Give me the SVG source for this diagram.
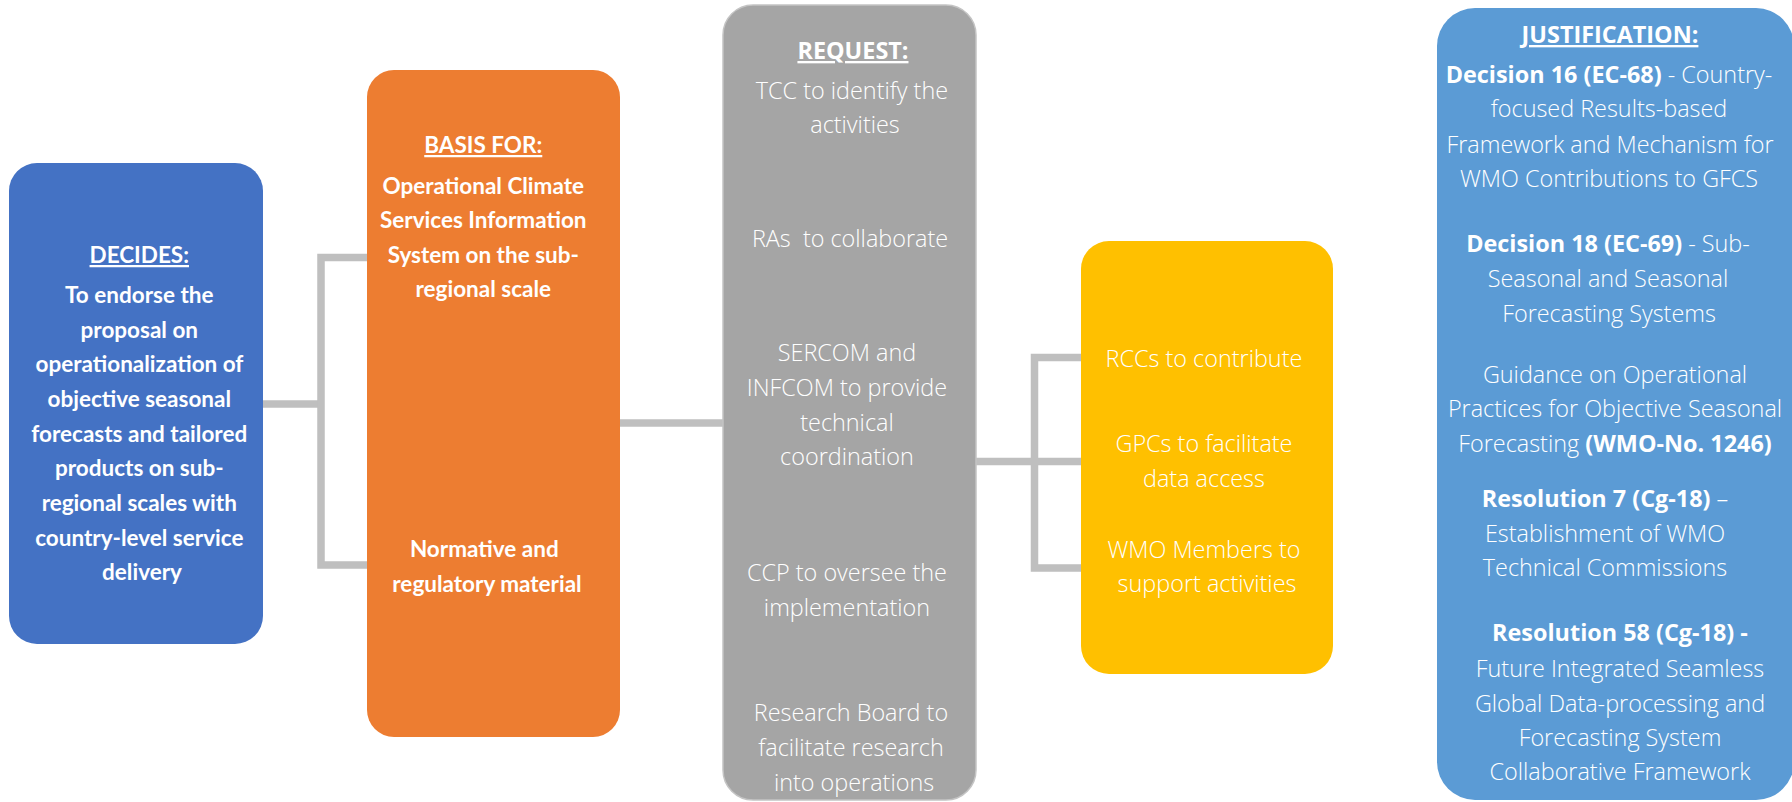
<svg xmlns="http://www.w3.org/2000/svg" width="1792" height="802" viewBox="0 0 1792 802">
<style>
.cb{font-family:Lato,"Open Sans","Liberation Sans",sans-serif;font-weight:700;font-size:22.5px;fill:#fff;text-anchor:middle}
.sg{font-family:"Open Sans","Noto Sans","Liberation Sans",sans-serif;font-weight:300;font-size:23.4px;fill:#fff;text-anchor:middle}
.b{font-weight:700}
.u{text-decoration:underline}
.pre{white-space:pre}
.conn{fill:none;stroke:#BFBFBF;stroke-width:7.5;stroke-linejoin:miter;stroke-linecap:butt}
</style>
<rect width="1792" height="802" fill="#fff"/>
<g id="connectors">
<path class="conn" d="M263,404 H321"/>
<path class="conn" d="M367,257.5 H321 V565 H367"/>
<path class="conn" d="M620,423 H723"/>
<path class="conn" d="M976,461.5 H1081"/>
<path class="conn" d="M1081,357.5 H1034.5 V568 H1081"/>
</g>
<g id="decides">
<rect x="9" y="163" width="254" height="481" rx="28" fill="#4472C4"/>
<text class="cb"><tspan class="u" x="142" y="263">DECIDES:</tspan>
<tspan x="142" y="303">To endorse the</tspan>
<tspan x="142" y="338">proposal on</tspan>
<tspan x="142" y="372">operationalization of</tspan>
<tspan x="142" y="407">objective seasonal</tspan>
<tspan x="142" y="442">forecasts and tailored</tspan>
<tspan x="142" y="476">products on sub-</tspan>
<tspan x="142" y="511">regional scales with</tspan>
<tspan x="142" y="546">country-level service</tspan>
<tspan x="142" y="580">delivery</tspan></text>
</g>
<g id="basis">
<rect x="367" y="70" width="253" height="667" rx="27" fill="#ED7D31"/>
<text class="cb"><tspan class="u" x="486" y="153">BASIS FOR:</tspan>
<tspan x="486" y="194">Operational Climate</tspan>
<tspan x="486" y="228">Services Information</tspan>
<tspan x="486" y="263">System on the sub-</tspan>
<tspan x="486" y="297">regional scale</tspan>
<tspan x="487" y="557">Normative and</tspan>
<tspan x="487" y="592">regulatory material</tspan></text>
</g>
<g id="request">
<rect x="723" y="5" width="253" height="795" rx="30" fill="#A5A5A5" stroke="#C4C4C4" stroke-width="1.5"/>
<text class="sg"><tspan class="b u" x="856" y="59">REQUEST:</tspan>
<tspan x="855" y="99">TCC to identify the</tspan>
<tspan x="855" y="133">activities</tspan></text>
<text class="sg pre" x="850" y="247">RAs  to collaborate</text>
<text class="sg"><tspan x="850" y="361">SERCOM and</tspan>
<tspan x="850" y="396">INFCOM to provide</tspan>
<tspan x="850" y="431">technical</tspan>
<tspan x="850" y="465">coordination</tspan>
<tspan x="850" y="581">CCP to oversee the</tspan>
<tspan x="850" y="616">implementation</tspan>
<tspan x="854" y="721">Research Board to</tspan>
<tspan x="854" y="756">facilitate research</tspan>
<tspan x="854" y="791">into operations</tspan></text>
</g>
<g id="contributors">
<rect x="1081" y="241" width="252" height="433" rx="28" fill="#FFC000"/>
<text class="sg"><tspan x="1207" y="367">RCCs to contribute</tspan>
<tspan x="1207" y="452">GPCs to facilitate</tspan>
<tspan x="1207" y="487">data access</tspan>
<tspan x="1207" y="558">WMO Members to</tspan>
<tspan x="1207" y="592">support activities</tspan></text>
</g>
<g id="justification">
<rect x="1437" y="8" width="357" height="792" rx="38" fill="#5B9BD5"/>
<text class="sg" x="1610" y="43"><tspan class="b u">JUSTIFICATION:</tspan></text>
<text class="sg" x="1609" y="83"><tspan class="b">Decision 16 (EC-68)</tspan> - Country-</text>
<text class="sg" x="1609" y="117">focused Results-based</text>
<text class="sg" x="1610" y="153">Framework and Mechanism for</text>
<text class="sg" x="1609" y="187">WMO Contributions to GFCS</text>
<text class="sg" x="1608" y="252"><tspan class="b">Decision 18 (EC-69)</tspan> - Sub-</text>
<text class="sg" x="1608" y="287">Seasonal and Seasonal</text>
<text class="sg" x="1609" y="322">Forecasting Systems</text>
<text class="sg" x="1615" y="383">Guidance on Operational</text>
<text class="sg" x="1615" y="417">Practices for Objective Seasonal</text>
<text class="sg" x="1615" y="452">Forecasting <tspan class="b">(WMO-No. 1246)</tspan></text>
<text class="sg" x="1605" y="507"><tspan class="b">Resolution 7 (Cg-18)</tspan> –</text>
<text class="sg" x="1605" y="542">Establishment of WMO</text>
<text class="sg" x="1605" y="576">Technical Commissions</text>
<text class="sg" x="1620" y="641"><tspan class="b">Resolution 58 (Cg-18) -</tspan></text>
<text class="sg" x="1620" y="677">Future Integrated Seamless</text>
<text class="sg" x="1620" y="712">Global Data-processing and</text>
<text class="sg" x="1620" y="746">Forecasting System</text>
<text class="sg" x="1620" y="780">Collaborative Framework</text>
</g>
</svg>
